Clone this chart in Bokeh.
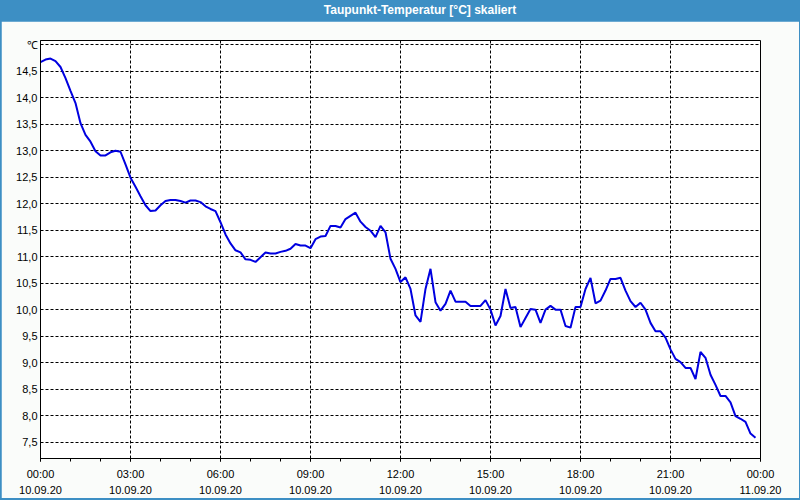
from bokeh.plotting import figure
from bokeh.models import FixedTicker, Range1d, Div
from bokeh.layouts import column
from bokeh.embed import file_html
from bokeh.resources import INLINE

# time in minutes since 10.09.20 00:00 (10-minute steps)
minutes = list(range(0, 1440, 10))
dewpoint = [
    14.67, 14.72, 14.74, 14.69, 14.58, 14.37, 14.13, 13.90, 13.52, 13.30,
    13.17, 12.99, 12.91, 12.91, 12.97, 13.00, 12.98, 12.74, 12.49, 12.32,
    12.14, 11.97, 11.86, 11.87, 11.97, 12.05, 12.07, 12.07, 12.05, 12.02,
    12.06, 12.06, 12.03, 11.95, 11.90, 11.86, 11.65, 11.42, 11.25, 11.12,
    11.08, 10.95, 10.94, 10.90, 10.99, 11.08, 11.06, 11.06, 11.09, 11.11,
    11.15, 11.24, 11.21, 11.21, 11.16, 11.33, 11.38, 11.39, 11.58, 11.58,
    11.55, 11.71, 11.77, 11.83, 11.66, 11.56, 11.49, 11.37, 11.58, 11.46,
    10.96, 10.77, 10.52, 10.61, 10.39, 9.89, 9.77, 10.39, 10.77, 10.14,
    9.98, 10.11, 10.36, 10.15, 10.15, 10.15, 10.07, 10.07, 10.07, 10.18,
    10.00, 9.70, 9.88, 10.39, 10.03, 10.05, 9.67, 9.84, 10.01, 10.00,
    9.75, 10.00, 10.07, 10.00, 10.00, 9.69, 9.66, 10.05, 10.05, 10.39,
    10.60, 10.12, 10.17, 10.36, 10.58, 10.58, 10.60, 10.36, 10.16, 10.05,
    10.13, 10.00, 9.75, 9.59, 9.59, 9.47, 9.25, 9.07, 9.01, 8.90,
    8.90, 8.69, 9.20, 9.09, 8.77, 8.58, 8.37, 8.37, 8.25, 7.99,
    7.94, 7.88, 7.66, 7.58,
]

x_tick_hours = [0, 3, 6, 9, 12, 15, 18, 21, 24]
x_tick_times = ["00:00", "03:00", "06:00", "09:00", "12:00", "15:00", "18:00", "21:00", "00:00"]
x_tick_dates = ["10.09.20"] * 8 + ["11.09.20"]
x_minor_hours = list(range(0, 25))

y_ticks = [7.5, 8.0, 8.5, 9.0, 9.5, 10.0, 10.5, 11.0, 11.5, 12.0, 12.5, 13.0, 13.5, 14.0, 14.5, 15.0]
y_tick_labels = ["7,5", "8,0", "8,5", "9,0", "9,5", "10,0", "10,5", "11,0", "11,5",
                 "12,0", "12,5", "13,0", "13,5", "14,0", "14,5", "\u2103"]

title_text = "Taupunkt-Temperatur [°C] skaliert"

FONT = "Liberation Sans"
BLUE = "#3d8fc4"

hours = [m / 60.0 for m in minutes]

p = figure(width=798, height=477, output_backend="svg", toolbar_location=None,
           x_range=Range1d(0, 24), y_range=Range1d(7.19, 15.08),
           min_border_left=39, min_border_right=39, min_border_top=19, min_border_bottom=38)
p.margin = (0, 1, 2, 1)
p.background_fill_color = "#ffffff"
p.border_fill_color = "#fafcfa"
p.outline_line_color = "black"
p.outline_line_width = 1

p.line(hours, dewpoint, line_color="#0000e0", line_width=2)

# x axis
p.xaxis.ticker = FixedTicker(ticks=[float(h) for h in x_tick_hours],
                             minor_ticks=[float(h) for h in x_minor_hours])
p.xaxis.major_label_overrides = {float(h): f"{t}\n{d}" for h, t, d in zip(x_tick_hours, x_tick_times, x_tick_dates)}
p.xaxis.major_tick_out = 3
p.xaxis.major_tick_in = 0
p.xaxis.minor_tick_out = 3
p.xaxis.minor_tick_in = 0
p.xaxis.major_label_standoff = 6
p.xaxis.axis_line_color = "black"
p.xaxis.major_tick_line_color = "black"
p.xaxis.minor_tick_line_color = "black"
p.xaxis.major_label_text_font = FONT
p.xaxis.major_label_text_font_size = "11px"
p.xaxis.major_label_text_color = "black"
p.xaxis.major_label_text_line_height = 1.35

# y axis
p.yaxis.ticker = FixedTicker(ticks=y_ticks, minor_ticks=[])
p.yaxis.major_label_overrides = {t: l for t, l in zip(y_ticks, y_tick_labels)}
p.yaxis.major_tick_out = 0
p.yaxis.major_tick_in = 0
p.yaxis.minor_tick_out = 0
p.yaxis.minor_tick_in = 0
p.yaxis.major_label_standoff = 3
p.yaxis.axis_line_color = "black"
p.yaxis.major_label_text_font = FONT
p.yaxis.major_label_text_font_size = "11px"
p.yaxis.major_label_text_color = "black"

# grid
p.xgrid.ticker = FixedTicker(ticks=[float(h) for h in x_tick_hours])
p.ygrid.ticker = FixedTicker(ticks=y_ticks)
for g in (p.xgrid, p.ygrid):
    g.grid_line_color = "black"
    g.grid_line_width = 1
    g.grid_line_dash = "3 2"
    g.grid_line_alpha = 1.0

header = Div(
    text=f'<div style="width:800px;height:21px;line-height:21px;text-align:center;'
         f'padding-left:40px;box-sizing:border-box;color:white;font-weight:bold;'
         f'font-family:\'{FONT}\';font-size:12px;">{title_text}</div>',
    width=800, height=21, margin=(0, 0, 0, 0),
    styles={"background-color": BLUE},
)

layout = column(header, p, spacing=0, width=800, height=500,
                styles={"background-color": BLUE})

with open("out.html", "w") as f:
    f.write(file_html(layout, INLINE))
